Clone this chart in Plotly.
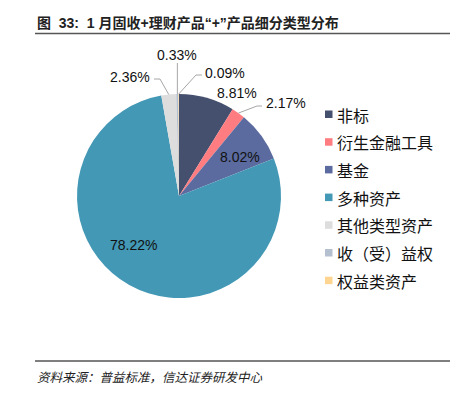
import math
import plotly.graph_objects as go

# ---- data ----
categories = ["非标", "衍生金融工具", "基金", "多种资产", "其他类型资产", "收（受）益权", "权益类资产"]
shares = [8.81, 2.17, 8.02, 78.22, 2.36, 0.33, 0.09]
label_texts = ["8.81%", "2.17%", "8.02%", "78.22%", "2.36%", "0.33%", "0.09%"]

# ---- style ----
colors = ["#454F6E", "#FF7C80", "#5B6B9F", "#4398B5", "#DDDDDD", "#B4BFD0", "#FFD591"]
OFF = 8  # page body margin
W, H = 452, 387
CX, CY, R = 179, 196, 102
FONT = "Liberation Sans, Arial, sans-serif"
CJK = "Noto Sans CJK SC, sans-serif"
TITLE_FONT = "Liberation Sans, Noto Sans CJK SC, sans-serif"

def paper(x, y):
    return (x - OFF) / W, 1 - (y - OFF) / H

# label placement: (label x, label y, anchor, leader elbow or None)
label_layout = [
    (215, 93, "left", None),
    (264, 103, "left", ((257, 106), (262, 106))),
    (240, 157, "center", None),
    (133, 245, "center", None),
    (152, 77, "right", ((160, 79), (154, 79))),
    (177, 55, "center", ((None, 63), None)),
    (203, 73, "left", ((196, 75), (202, 75))),
]

fig = go.Figure()
x0, y1 = paper(CX - R, CY - R)
x1, y0 = paper(CX + R, CY + R)
fig.add_trace(go.Pie(
    labels=categories, values=shares, sort=False, direction="clockwise", rotation=0,
    marker=dict(colors=colors, line=dict(width=0)), textinfo="none", hoverinfo="label+percent",
    domain=dict(x=[x0, x1], y=[y0, y1]), showlegend=False,
))

annotations = []
shapes = []
total = sum(shares)
cum = 0.0
for v, txt, lay in zip(shares, label_texts, label_layout):
    mid = (cum + v / 2) / total * 2 * math.pi
    cum += v
    ex = CX + R * math.sin(mid)
    ey = CY - R * math.cos(mid)
    lx, ly, anchor, leader = lay
    ax, ay = paper(lx, ly)
    annotations.append(dict(x=ax, y=ay, xref="paper", yref="paper", text=txt, showarrow=False,
                            xanchor=anchor, yanchor="middle", font=dict(family=FONT, size=14, color="#111")))
    if leader:
        pts = [(ex, ey)]
        (bx, by), end = leader
        if bx is None:
            bx = ex
        pts.append((bx, by))
        if end:
            pts.append(end)
        path = "M " + " L ".join(f"{paper(px_, py_)[0]},{paper(px_, py_)[1]}" for px_, py_ in pts)
        shapes.append(dict(type="path", xref="paper", yref="paper", path=path,
                           line=dict(color="#A6A6A6", width=1)))

# legend (manual)
leg_y0, leg_dy = 114.5, 27.7
for i, (c, name) in enumerate(zip(colors, categories)):
    y = leg_y0 + i * leg_dy
    a, b = paper(325, y - 4)
    c2, d = paper(332.5, y + 3.5)
    shapes.append(dict(type="rect", xref="paper", yref="paper", x0=a, y0=d, x1=c2, y1=b,
                       fillcolor=c, line=dict(width=0)))
    tx, ty = paper(335, y)
    annotations.append(dict(x=tx, y=ty, xref="paper", yref="paper", text=name, showarrow=False,
                            xanchor="left", yanchor="middle", font=dict(family=CJK, size=16, color="#111")))

# title, rules, source
tx, ty = paper(35, 23)
annotations.append(dict(x=tx, y=ty, xref="paper", yref="paper",
                        text="<b>图  33:  1 月固收+理财产品“+”产品细分类型分布</b>", showarrow=False,
                        xanchor="left", yanchor="middle", font=dict(family=TITLE_FONT, size=14, color="#222")))
for yy in (33.5, 361):
    a, b = paper(35, yy)
    c2, _ = paper(450, yy)
    shapes.append(dict(type="line", xref="paper", yref="paper", x0=a, x1=c2, y0=b, y1=b,
                       line=dict(color="#555", width=1.3)))
sx, sy = paper(35, 376)
annotations.append(dict(x=sx, y=sy, xref="paper", yref="paper",
                        text="<i>资料来源：普益标准，信达证券研发中心</i>", showarrow=False,
                        xanchor="left", yanchor="middle", font=dict(family=CJK, size=12.5, color="#222")))

fig.update_layout(width=W, height=H, margin=dict(l=0, r=0, t=0, b=0),
                  paper_bgcolor="white", plot_bgcolor="white",
                  annotations=annotations, shapes=shapes)
fig.write_html("out.html")
